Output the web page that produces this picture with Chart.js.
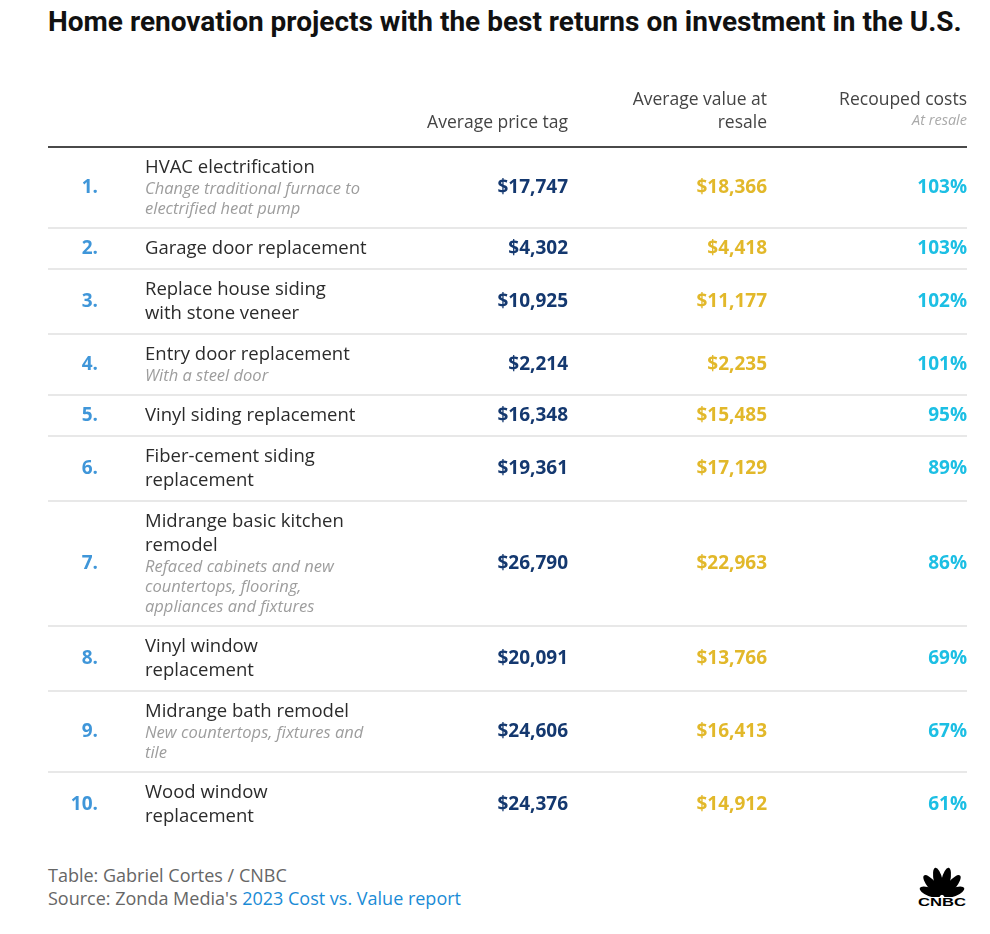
<!DOCTYPE html>
<html lang="en">
<head>
<meta charset="UTF-8">
<title>Home renovation returns</title>
<script src="https://cdn.jsdelivr.net/npm/chart.js"></script>
<style>
  body { margin: 0; background: #fff; width: 990px; height: 934px; position: relative; overflow: hidden; font-family: 'Open Sans', sans-serif; }
  h1 { position: absolute; left: 48px; top: 5px; margin: 0; font: 700 28px Roboto, sans-serif; color: #111; white-space: nowrap; }
  #wrap { position: absolute; left: 48px; top: 60px; width: 919px; height: 782px; }
  .foot { position: absolute; left: 48px; top: 864px; font-size: 18px; color: #666; line-height: 23px; }
  .foot a { color: #1a8bd6; text-decoration: none; }
  #logo { position: absolute; left: 916px; top: 865px; }
</style>
</head>
<body>
  <h1>Home renovation projects with the best returns on investment in the U.S.</h1>
  <div id="wrap"><canvas id="table"></canvas></div>
  <div class="foot">
    Table: Gabriel Cortes / CNBC<br>
    Source: Zonda Media's <a href="#">2023 Cost vs. Value report</a>
  </div>
  <svg id="logo" width="52" height="42" viewBox="0 0 52 42">
    <g transform="translate(26,32)" fill="#000">
      <ellipse rx="4.2" ry="11" transform="rotate(-68) translate(0,-13)"/>
      <ellipse rx="4.5" ry="13" transform="rotate(-40) translate(0,-15)"/>
      <ellipse rx="4.5" ry="14" transform="rotate(-13) translate(0,-16)"/>
      <ellipse rx="4.5" ry="14" transform="rotate(13) translate(0,-16)"/>
      <ellipse rx="4.5" ry="13" transform="rotate(40) translate(0,-15)"/>
      <ellipse rx="4.2" ry="11" transform="rotate(68) translate(0,-13)"/>
    </g>
    <rect x="0" y="32" width="52" height="10" fill="#fff"/>
    <text x="26" y="41" text-anchor="middle" textLength="48" lengthAdjust="spacingAndGlyphs" font-family="Liberation Sans, Arial" font-weight="700" font-size="11" fill="#000">CNBC</text>
  </svg>

  <script>
    const projects = [
      'HVAC electrification',
      'Garage door replacement',
      'Replace house siding\nwith stone veneer',
      'Entry door replacement',
      'Vinyl siding replacement',
      'Fiber-cement siding\nreplacement',
      'Midrange basic kitchen\nremodel',
      'Vinyl window\nreplacement',
      'Midrange bath remodel',
      'Wood window\nreplacement'
    ];
    const notes = [
      'Change traditional furnace to\nelectrified heat pump',
      '',
      '',
      'With a steel door',
      '',
      '',
      'Refaced cabinets and new\ncountertops, flooring,\nappliances and fixtures',
      '',
      'New countertops, fixtures and\ntile',
      ''
    ];
    const priceTags = [17747, 4302, 10925, 2214, 16348, 19361, 26790, 20091, 24606, 24376];
    const resaleValues = [18366, 4418, 11177, 2235, 15485, 17129, 22963, 13766, 16413, 14912];
    const recouped = [103, 103, 102, 101, 95, 89, 86, 69, 67, 61];
    const headers = ['Average price tag', 'Average value at\nresale', 'Recouped costs'];
    const subHeader = 'At resale';

    // column anchors on the x scale (0..919 across the table)
    const COL = { rank: 50, name: 97, price: 520, resale: 719, recouped: 919 };
    const TITLE_LH = 24, NOTE_LH = 20, PAD = 17;
    const lines = s => s ? s.split('\n') : [];

    // row heights follow from how many text lines each row holds
    const rowH = projects.map((p, i) => PAD + lines(p).length * TITLE_LH + lines(notes[i]).length * NOTE_LH);
    const rowTop = [];
    let total = 0;
    rowH.forEach(h => { rowTop.push(total); total += h; });
    const rowMid = rowH.map((h, i) => rowTop[i] + h / 2);

    const money = v => '$' + v.toLocaleString('en-US');
    const cells = (x, vals) => vals.map((v, i) => ({ x: x, y: rowMid[i], v: v }));

    const tablePlugin = {
      id: 'tableText',
      beforeDatasetsDraw(chart) {
        const { ctx, chartArea: a, scales: { x, y } } = chart;
        ctx.save();
        ctx.fillStyle = '#e8e8e8';
        rowTop.slice(1).forEach(t => {
          const py = Math.round(y.getPixelForValue(t));
          ctx.fillRect(a.left, py - 1, a.width, 2);
        });
        ctx.fillStyle = '#4a4a4a';
        ctx.fillRect(a.left, a.top - 1, a.width, 2);

        // column headers, bottom aligned above the rule
        ctx.textAlign = 'right';
        ctx.textBaseline = 'middle';
        ctx.font = "17.5px 'Open Sans'";
        ctx.fillStyle = '#444';
        [COL.price, COL.resale, COL.recouped].forEach((cx, k) => {
          const hl = lines(headers[k]);
          const px = x.getPixelForValue(cx);
          if (k === 2) {
            ctx.fillText(hl[0], px, a.top - 47);
          } else {
            hl.forEach((t, j) => ctx.fillText(t, px, a.top - 24 - (hl.length - 1 - j) * 23));
          }
        });
        ctx.font = "italic 14.5px 'Open Sans'";
        ctx.fillStyle = '#aaa';
        ctx.fillText(subHeader, x.getPixelForValue(COL.recouped), a.top - 26);
        ctx.restore();
      },
      afterDatasetsDraw(chart) {
        const ctx = chart.ctx;
        ctx.save();
        ctx.textBaseline = 'middle';
        chart.data.datasets.forEach((ds, di) => {
          chart.getDatasetMeta(di).data.forEach((pt, i) => {
            const v = ds.data[i].v;
            if (ds.kind === 'name') {
              const tl = lines(v), nl = lines(notes[i]);
              const top = pt.y - (tl.length * TITLE_LH + nl.length * NOTE_LH) / 2;
              ctx.textAlign = 'left';
              ctx.font = "18.5px 'Open Sans'";
              ctx.fillStyle = '#2b2b2b';
              tl.forEach((t, j) => ctx.fillText(t, pt.x, top + TITLE_LH / 2 + j * TITLE_LH));
              ctx.font = "italic 16.5px 'Open Sans'";
              ctx.fillStyle = '#9d9d9d';
              nl.forEach((t, j) => ctx.fillText(t, pt.x, top + tl.length * TITLE_LH + NOTE_LH / 2 + j * NOTE_LH));
            } else {
              ctx.textAlign = 'right';
              ctx.font = "700 19px 'Open Sans'";
              ctx.fillStyle = ds.color;
              ctx.fillText(ds.fmt(v), pt.x, pt.y);
            }
          });
        });
        ctx.restore();
      }
    };

    new Chart(document.getElementById('table'), {
      type: 'scatter',
      data: {
        datasets: [
          { kind: 'rank', color: '#3f96d9', fmt: v => v + '.', data: cells(COL.rank, projects.map((_, i) => i + 1)) },
          { kind: 'name', data: cells(COL.name, projects) },
          { kind: 'num', color: '#14386f', fmt: money, data: cells(COL.price, priceTags) },
          { kind: 'num', color: '#e2b82a', fmt: money, data: cells(COL.resale, resaleValues) },
          { kind: 'num', color: '#1cbfe4', fmt: v => v + '%', data: cells(COL.recouped, recouped) }
        ]
      },
      options: {
        responsive: true,
        maintainAspectRatio: false,
        animation: false,
        elements: { point: { radius: 0, hoverRadius: 0 } },
        layout: { padding: { top: 87, bottom: 5, left: 0, right: 0 } },
        plugins: { legend: { display: false }, tooltip: { enabled: false } },
        scales: {
          x: { type: 'linear', min: 0, max: 919, display: false },
          y: { type: 'linear', min: 0, max: total, reverse: true, display: false }
        }
      },
      plugins: [tablePlugin]
    });
  </script>
</body>
</html>
